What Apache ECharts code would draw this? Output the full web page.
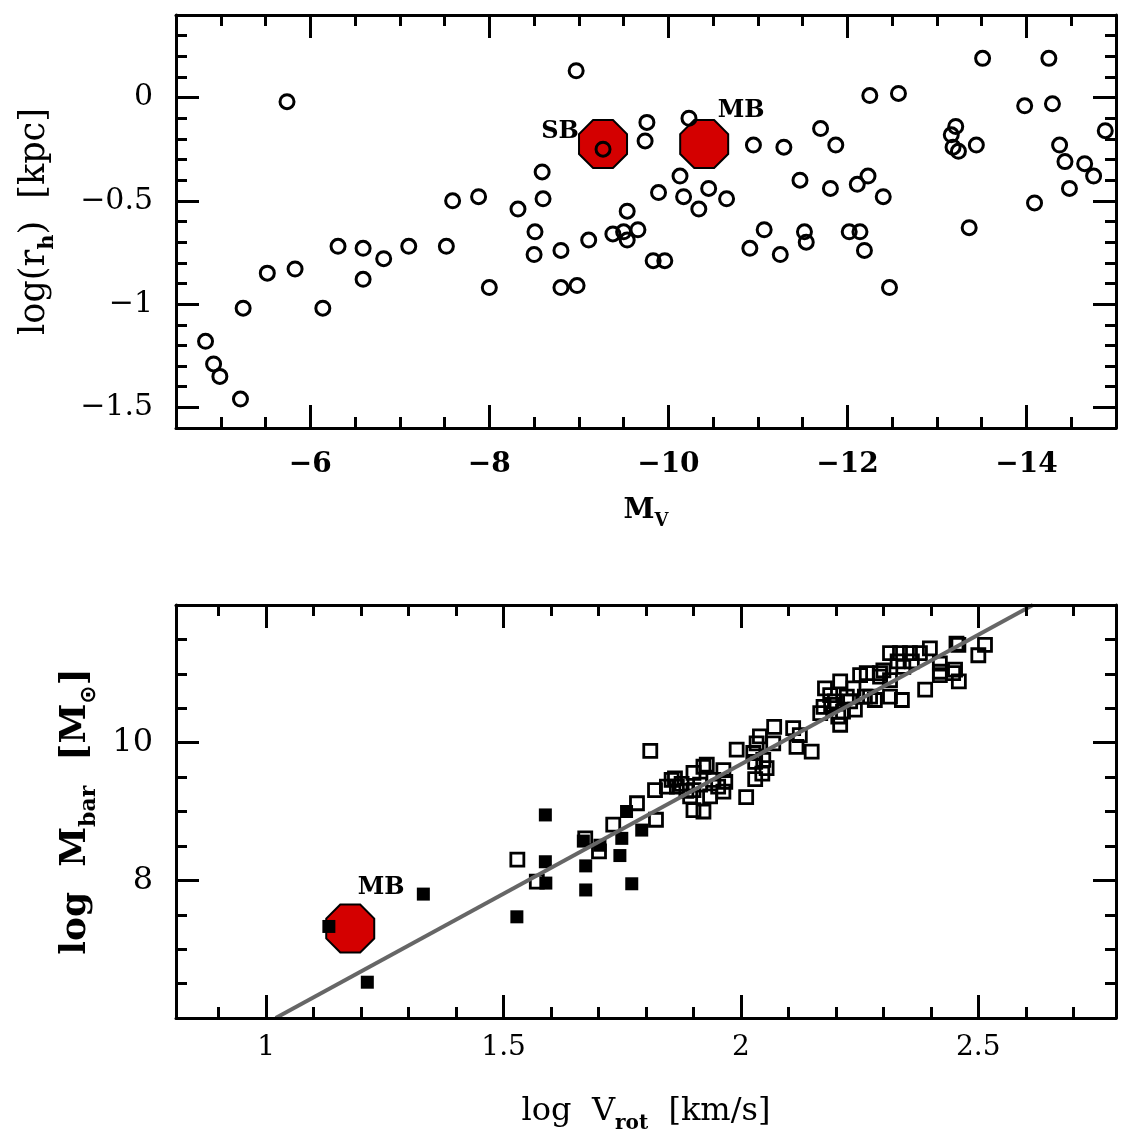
<!DOCTYPE html>
<html><head><meta charset="utf-8">
<script src="https://cdn.jsdelivr.net/npm/echarts@6/dist/echarts.min.js"></script>
<style>html,body{margin:0;padding:0;background:#fff}#c{width:1135px;height:1137px}</style>
</head><body><div id="c"></div>
<script>
// ---------- top panel: half-light radius vs absolute magnitude ----------
const mvCircles = [-5.74,-8.97,-9.27,-9.76,-9.74,-8.59,-7.59,-7.88,-8.32,-8.60,-9.54,-8.51,-9.38,-9.50,-9.66,-9.54,-9.11,-8.80,-8.50,-9.83,-9.96,-8.80,-8.98,-8.00,-6.31,-6.59,-6.82,-7.10,-7.52,-6.59,-5.52,-5.83,-5.25,-6.14,-4.83,-4.92,-4.99,-5.22,-10.23,-10.95,-11.29,-12.25,-12.57,-11.70,-11.87,-10.13,-9.89,-10.17,-10.45,-10.34,-10.65,-11.47,-11.81,-12.11,-12.23,-12.40,-11.07,-10.91,-11.25,-11.52,-11.54,-12.02,-12.14,-12.19,-12.47,-13.51,-14.25,-13.98,-14.29,-13.21,-13.16,-13.18,-13.24,-13.44,-13.36,-14.37,-14.43,-14.65,-14.75,-14.48,-14.09,-14.88];
const rhCircles = [-0.02,0.13,-0.25,-0.12,-0.21,-0.36,-0.50,-0.48,-0.54,-0.49,-0.55,-0.65,-0.66,-0.65,-0.64,-0.69,-0.69,-0.74,-0.76,-0.79,-0.79,-0.92,-0.91,-0.92,-0.72,-0.73,-0.78,-0.72,-0.72,-0.88,-0.85,-0.83,-1.02,-1.02,-1.18,-1.29,-1.35,-1.46,-0.10,-0.23,-0.24,0.01,0.02,-0.15,-0.23,-0.38,-0.46,-0.48,-0.44,-0.54,-0.49,-0.40,-0.44,-0.42,-0.38,-0.48,-0.64,-0.73,-0.76,-0.65,-0.70,-0.65,-0.65,-0.74,-0.92,0.19,0.19,-0.04,-0.03,-0.14,-0.18,-0.24,-0.26,-0.23,-0.63,-0.23,-0.31,-0.32,-0.38,-0.44,-0.51,-0.16];
const redTopNames = ['SB','MB'];
const redTopMv = [-9.27,-10.40];
const redTopRh = [-0.225,-0.225];

// ---------- bottom panel: baryonic Tully-Fisher ----------
const vrotOpen = [1.529,1.570,1.672,1.701,1.731,1.781,1.809,1.819,1.821,1.844,1.854,1.861,1.865,1.893,1.900,1.900,1.900,1.914,1.921,1.921,1.928,1.935,1.942,1.952,1.963,1.967,1.963,1.991,2.011,2.026,2.030,2.033,2.040,2.047,2.054,2.068,2.070,2.110,2.117,2.124,2.149,2.167,2.174,2.177,2.188,2.198,2.205,2.209,2.209,2.223,2.237,2.240,2.251,2.261,2.265,2.272,2.282,2.293,2.293,2.314,2.314,2.314,2.335,2.339,2.342,2.356,2.377,2.388,2.398,2.419,2.419,2.419,2.447,2.451,2.454,2.458,2.459,2.500,2.514,1.875,1.885,2.030,2.045,2.190,2.215,2.230,2.300,2.360,2.330];
const mbarOpen = [8.30,7.98,8.61,8.42,8.81,9.12,9.88,9.31,8.88,9.36,9.46,9.48,9.36,9.22,9.56,9.31,9.02,9.39,9.65,9.00,9.68,9.22,9.46,9.36,9.60,9.43,9.29,9.90,9.21,9.85,9.47,9.99,10.09,9.75,9.63,9.99,10.23,10.21,9.94,10.11,9.87,10.43,10.52,10.79,10.69,10.60,10.38,10.89,10.26,10.67,10.79,10.48,10.98,10.67,11.01,10.67,10.62,10.96,11.01,11.30,10.91,10.67,11.30,10.62,11.10,11.30,11.30,10.77,11.37,11.03,11.15,10.98,11.01,11.06,11.44,11.42,10.89,11.27,11.42,9.40,9.30,9.72,9.55,10.55,10.45,10.60,11.05,11.18,11.18];
const vrotFilled = [1.132,1.213,1.331,1.528,1.588,1.588,1.589,1.673,1.673,1.668,1.703,1.745,1.770,1.759,1.749,1.791];
const mbarFilled = [7.33,6.52,7.80,7.47,8.95,8.27,7.96,8.21,7.86,8.57,8.51,8.36,7.95,9.00,8.61,8.73];
const redBotNames = ['MB'];
const redBotVrot = [1.177];
const redBotMbar = [7.30];
const fitVrot = [1.02,2.615];
const fitMbar = [6,12];

// ---------- ticks ----------
const topXMajor = [-14,-12,-10,-8,-6];
const topXMinor = [-14.5,-13.5,-13,-12.5,-11.5,-11,-10.5,-9.5,-9,-8.5,-7.5,-7,-6.5,-5.5,-5];
const topYMajor = [-1.5,-1,-0.5,0];
const topYMinor = [0.3,0.2,0.1,-0.1,-0.2,-0.3,-0.4,-0.6,-0.7,-0.8,-0.9,-1.1,-1.2,-1.3,-1.4];
const botXMajor = [1,1.5,2,2.5];
const botXMinor = [0.9,1.1,1.2,1.3,1.4,1.6,1.7,1.8,1.9,2.1,2.2,2.3,2.4,2.6,2.7];
const botYMajor = [8,10];
const botYMinor = [6.5,7,7.5,8.5,9,9.5,10.5,11,11.5];

const FONT = 'DejaVu Serif';
const neg = v => String(v).replace('-', '\u2212');

function ax(o){
  const a = {
    type:'value', gridIndex:o.g, position:o.pos, min:o.min, max:o.max, inverse:!!o.inv,
    axisLine:{show:!!o.line, onZero:false, lineStyle:{color:'#000',width:3}},
    axisTick:{show:true, inside:true, length:o.len, customValues:o.ticks, lineStyle:{color:'#000',width:3}},
    axisLabel:{show:false},
    splitLine:{show:false}, minorTick:{show:false}, silent:true, z:5
  };
  if (o.labels) a.axisLabel = Object.assign({show:true, customValues:o.labels, formatter:neg, color:'#000', fontFamily:FONT}, o.ls);
  if (o.name) Object.assign(a, o.name);
  return a;
}
function sub(size, weight){ return {fontFamily:FONT, fontSize:size, fontWeight:weight||'bold', lineHeight:size, verticalAlign:'bottom', color:'#000'}; }

const xAxes = [
  ax({g:0,pos:'bottom',min:-15,max:-4.5,inv:true,line:true,len:23,ticks:topXMajor,labels:topXMajor,
      ls:{fontSize:28,fontWeight:'bold',margin:23},
      name:{name:'M{s|V}',nameLocation:'middle',nameGap:64,
        nameTextStyle:{fontFamily:FONT,fontSize:28,fontWeight:'bold',color:'#000',lineHeight:38,verticalAlign:'top',rich:{s:sub(18)}}}}),
  ax({g:0,pos:'bottom',min:-15,max:-4.5,inv:true,len:11,ticks:topXMinor}),
  ax({g:0,pos:'top',min:-15,max:-4.5,inv:true,line:true,len:23,ticks:topXMajor}),
  ax({g:0,pos:'top',min:-15,max:-4.5,inv:true,len:11,ticks:topXMinor}),
  ax({g:1,pos:'bottom',min:0.81,max:2.79,line:true,len:23,ticks:botXMajor,labels:botXMajor,
      ls:{fontSize:28,margin:16},
      name:{name:'log  V{s|rot}  [km/s]',nameLocation:'middle',nameGap:72,
        nameTextStyle:{fontFamily:FONT,fontSize:32,color:'#000',lineHeight:44,rich:{s:sub(20)}}}}),
  ax({g:1,pos:'bottom',min:0.81,max:2.79,len:11,ticks:botXMinor}),
  ax({g:1,pos:'top',min:0.81,max:2.79,line:true,len:23,ticks:botXMajor}),
  ax({g:1,pos:'top',min:0.81,max:2.79,len:11,ticks:botXMinor})
];
const yAxes = [
  ax({g:0,pos:'left',min:-1.6,max:0.4,line:true,len:23,ticks:topYMajor,labels:topYMajor,
      ls:{fontSize:30,margin:23},
      name:{name:'log(r{s|h})  [kpc]',nameLocation:'middle',nameRotate:90,nameGap:118,
        nameTextStyle:{fontFamily:FONT,fontSize:35,color:'#000',lineHeight:46,rich:{s:sub(21)}}}}),
  ax({g:0,pos:'left',min:-1.6,max:0.4,len:11,ticks:topYMinor}),
  ax({g:0,pos:'right',min:-1.6,max:0.4,line:true,len:23,ticks:topYMajor}),
  ax({g:0,pos:'right',min:-1.6,max:0.4,len:11,ticks:topYMinor}),
  ax({g:1,pos:'left',min:6,max:12,line:true,len:23,ticks:botYMajor,labels:botYMajor,
      ls:{fontSize:32,margin:23},
      name:{name:'log  M{s|bar}  [M{o|\u2299}]',nameLocation:'middle',nameRotate:90,nameGap:76,
        nameTextStyle:{fontFamily:FONT,fontSize:36,fontWeight:'bold',color:'#000',lineHeight:48,
          rich:{s:sub(22), o:Object.assign(sub(22),{fontFamily:'DejaVu Sans'})}}}}),
  ax({g:1,pos:'left',min:6,max:12,len:11,ticks:botYMinor}),
  ax({g:1,pos:'right',min:6,max:12,line:true,len:23,ticks:botYMajor}),
  ax({g:1,pos:'right',min:6,max:12,len:11,ticks:botYMinor})
];

// octagon with flat top
const oct = (() => { let p=''; for(let k=0;k<8;k++){const a=(22.5+45*k)*Math.PI/180; p += (k?'L':'M') + (Math.cos(a)*10).toFixed(3)+' '+(Math.sin(a)*10).toFixed(3)+' ';} return 'path://'+p+'Z'; })();

const redStyle = {color:'#d40000', borderColor:'#000', borderWidth:2, opacity:1};
const tagStyle = {show:true, position:'inside', fontFamily:FONT, fontSize:24, fontWeight:'bold', color:'#000', formatter:p=>p.name};
const topTagOffsets = [[-43,-12],[37,-33]];
const botTagOffsets = [[31,-41]];

const option = {
  animation:false,
  backgroundColor:'#fff',
  grid:[
    {left:176, top:15, width:940, height:413, containLabel:false},
    {left:176, top:605, width:940, height:413, containLabel:false}
  ],
  xAxis:xAxes, yAxis:yAxes,
  series:[
    {type:'scatter', xAxisIndex:0, yAxisIndex:0, symbol:oct, symbolSize:48, z:2, silent:true,
     itemStyle:redStyle,
     label:tagStyle,
     data:redTopMv.map((x,i)=>({value:[x,redTopRh[i]], name:redTopNames[i], label:{offset:topTagOffsets[i]}}))},
    {type:'scatter', xAxisIndex:0, yAxisIndex:0, symbol:'circle', symbolSize:14, z:3, silent:true,
     itemStyle:{color:'rgba(0,0,0,0)', borderColor:'#000', borderWidth:3, opacity:1},
     data:mvCircles.map((x,i)=>[x,rhCircles[i]])},
    {type:'scatter', xAxisIndex:4, yAxisIndex:4, symbol:oct, symbolSize:48, z:2, silent:true,
     itemStyle:redStyle,
     label:tagStyle,
     data:redBotVrot.map((x,i)=>({value:[x,redBotMbar[i]], name:redBotNames[i], label:{offset:botTagOffsets[i]}}))},
    {type:'scatter', xAxisIndex:4, yAxisIndex:4, symbol:'rect', symbolSize:13, z:3, silent:true,
     itemStyle:{color:'rgba(0,0,0,0)', borderColor:'#000', borderWidth:2.8, opacity:1},
     data:vrotOpen.map((x,i)=>[x,mbarOpen[i]])},
    {type:'scatter', xAxisIndex:4, yAxisIndex:4, symbol:'rect', symbolSize:13, z:3, silent:true,
     itemStyle:{color:'#000', opacity:1},
     data:vrotFilled.map((x,i)=>[x,mbarFilled[i]])},
    {type:'line', xAxisIndex:4, yAxisIndex:4, symbol:'none', z:4, silent:true, clip:true,
     lineStyle:{color:'#666', width:4},
     data:fitVrot.map((x,i)=>[x,fitMbar[i]])}
  ]
};
const chart = echarts.init(document.getElementById('c'), null, {renderer:'canvas'});
chart.setOption(option);
</script></body></html>
